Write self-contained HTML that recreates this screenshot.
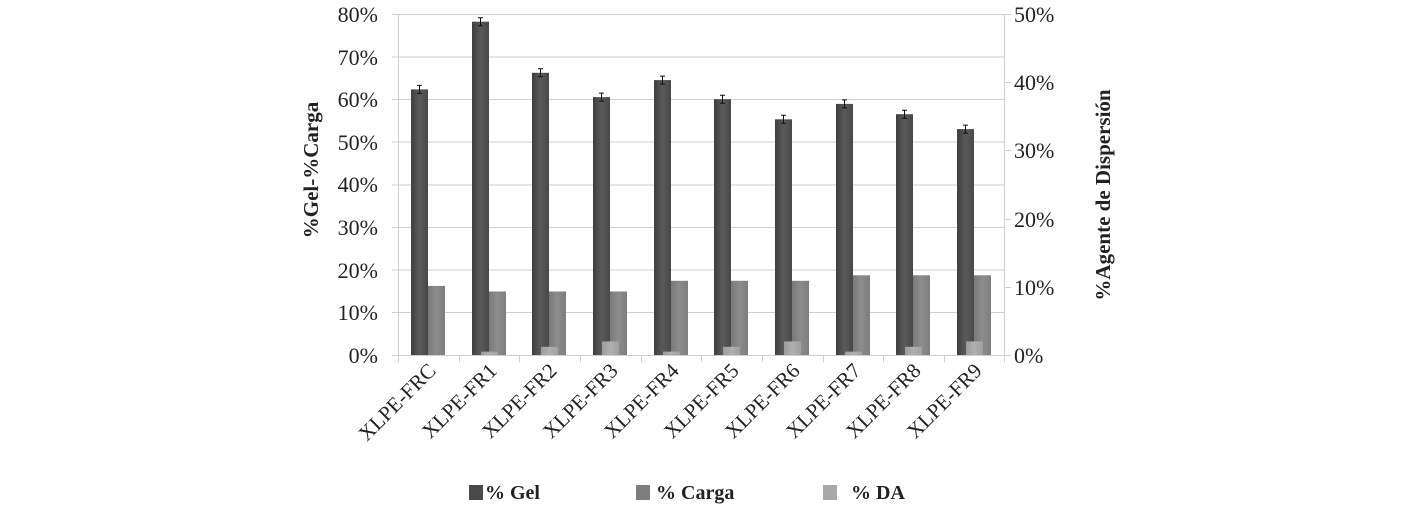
<!DOCTYPE html>
<html><head><style>body{margin:0;background:#fff}</style></head><body>
<svg width="1418" height="514" xmlns="http://www.w3.org/2000/svg" font-family="Liberation Serif, serif">
<defs>
<linearGradient id="g" x1="0" x2="1"><stop offset="0" stop-color="#3e3e3e"/><stop offset="0.5" stop-color="#5a5a5a"/><stop offset="1" stop-color="#484848"/></linearGradient>
<linearGradient id="c" x1="0" x2="1"><stop offset="0" stop-color="#7a7a7a"/><stop offset="0.5" stop-color="#8c8c8c"/><stop offset="1" stop-color="#7e7e7e"/></linearGradient>
<linearGradient id="d" x1="0" x2="1"><stop offset="0" stop-color="#9c9c9c"/><stop offset="0.5" stop-color="#b0b0b0"/><stop offset="1" stop-color="#a0a0a0"/></linearGradient>
</defs>
<g stroke="#cfcfcf" stroke-width="1">
<line x1="392" x2="1005" y1="14.5" y2="14.5"/><line x1="392" x2="1005" y1="57" y2="57"/><line x1="392" x2="1005" y1="99.5" y2="99.5"/><line x1="392" x2="1005" y1="142" y2="142"/><line x1="392" x2="1005" y1="185" y2="185"/><line x1="392" x2="1005" y1="227.5" y2="227.5"/><line x1="392" x2="1005" y1="270" y2="270"/><line x1="392" x2="1005" y1="312.5" y2="312.5"/><line x1="392" x2="1011" y1="355.5" y2="355.5"/>
<line x1="398.5" x2="398.5" y1="14" y2="355"/><line x1="1004.5" x2="1004.5" y1="14" y2="355"/>
<line x1="1005" x2="1011" y1="14.5" y2="14.5"/><line x1="1005" x2="1011" y1="82.5" y2="82.5"/><line x1="1005" x2="1011" y1="150.5" y2="150.5"/><line x1="1005" x2="1011" y1="219.5" y2="219.5"/><line x1="1005" x2="1011" y1="287.5" y2="287.5"/>
<line x1="398.5" x2="398.5" y1="355" y2="362"/><line x1="459.5" x2="459.5" y1="355" y2="362"/><line x1="519.5" x2="519.5" y1="355" y2="362"/><line x1="580.5" x2="580.5" y1="355" y2="362"/><line x1="641.5" x2="641.5" y1="355" y2="362"/><line x1="701.5" x2="701.5" y1="355" y2="362"/><line x1="762.5" x2="762.5" y1="355" y2="362"/><line x1="823.5" x2="823.5" y1="355" y2="362"/><line x1="883.5" x2="883.5" y1="355" y2="362"/><line x1="944.5" x2="944.5" y1="355" y2="362"/><line x1="1004.5" x2="1004.5" y1="355" y2="362"/>
</g>
<g fill="url(#g)">
<rect x="411" y="89.4" width="17" height="265.6"/>
<rect x="472" y="21.7" width="17" height="333.3"/>
<rect x="532" y="72.8" width="17" height="282.2"/>
<rect x="593" y="97.1" width="17" height="257.9"/>
<rect x="654" y="80.1" width="17" height="274.9"/>
<rect x="714" y="99.2" width="17" height="255.8"/>
<rect x="775" y="119.3" width="17" height="235.7"/>
<rect x="836" y="103.9" width="17" height="251.1"/>
<rect x="896" y="114.2" width="17" height="240.8"/>
<rect x="957" y="129.1" width="17" height="225.9"/>
</g>
<g stroke="#111" stroke-width="1" fill="none">
<path d="M419.5 85.4V93.4M417 85.4h5M417 93.4h5"/>
<path d="M480.5 17.7V25.7M478 17.7h5M478 25.7h5"/>
<path d="M540.5 68.8V76.8M538 68.8h5M538 76.8h5"/>
<path d="M601.5 93.1V101.1M599 93.1h5M599 101.1h5"/>
<path d="M662.5 76.1V84.1M660 76.1h5M660 84.1h5"/>
<path d="M722.5 95.2V103.2M720 95.2h5M720 103.2h5"/>
<path d="M783.5 115.3V123.3M781 115.3h5M781 123.3h5"/>
<path d="M844.5 99.9V107.9M842 99.9h5M842 107.9h5"/>
<path d="M904.5 110.2V118.2M902 110.2h5M902 118.2h5"/>
<path d="M965.5 125.1V133.1M963 125.1h5M963 133.1h5"/>
</g>
<g fill="url(#c)">
<rect x="428" y="285.9" width="17" height="69.1"/>
<rect x="489" y="291.5" width="17" height="63.5"/>
<rect x="549" y="291.5" width="17" height="63.5"/>
<rect x="610" y="291.5" width="17" height="63.5"/>
<rect x="671" y="280.8" width="17" height="74.2"/>
<rect x="731" y="280.8" width="17" height="74.2"/>
<rect x="792" y="280.8" width="17" height="74.2"/>
<rect x="853" y="275.3" width="17" height="79.7"/>
<rect x="913" y="275.3" width="17" height="79.7"/>
<rect x="974" y="275.3" width="17" height="79.7"/>
</g>
<g fill="url(#d)">
<rect x="481" y="351.6" width="17" height="3.4"/>
<rect x="541" y="346.8" width="17" height="8.2"/>
<rect x="602" y="341.4" width="17" height="13.6"/>
<rect x="663" y="351.6" width="17" height="3.4"/>
<rect x="723" y="346.8" width="17" height="8.2"/>
<rect x="784" y="341.4" width="17" height="13.6"/>
<rect x="845" y="351.6" width="17" height="3.4"/>
<rect x="905" y="346.8" width="17" height="8.2"/>
<rect x="966" y="341.4" width="17" height="13.6"/>
</g>
<g font-size="22" fill="#222" text-anchor="end">
<text x="378" y="22">80%</text><text x="378" y="65">70%</text><text x="378" y="107">60%</text><text x="378" y="150">50%</text><text x="378" y="192">40%</text><text x="378" y="235">30%</text><text x="378" y="278">20%</text><text x="378" y="320">10%</text><text x="378" y="363">0%</text>
</g>
<g font-size="22" fill="#222">
<text x="1014" y="22">50%</text><text x="1014" y="90">40%</text><text x="1014" y="158">30%</text><text x="1014" y="227">20%</text><text x="1014" y="295">10%</text><text x="1014" y="363">0%</text>
</g>
<text transform="translate(318,170) rotate(-90)" text-anchor="middle" font-size="21" font-weight="bold" fill="#222">%Gel-%Carga</text>
<text transform="translate(1110,195) rotate(-90)" text-anchor="middle" font-size="21" font-weight="bold" fill="#222">%Agente de Dispersión</text>
<g font-size="21" fill="#222" text-anchor="end">
<text transform="translate(437,372) rotate(-45)">XLPE-FRC</text>
<text transform="translate(498,372) rotate(-45)">XLPE-FR1</text>
<text transform="translate(558,372) rotate(-45)">XLPE-FR2</text>
<text transform="translate(619,372) rotate(-45)">XLPE-FR3</text>
<text transform="translate(680,372) rotate(-45)">XLPE-FR4</text>
<text transform="translate(740,372) rotate(-45)">XLPE-FR5</text>
<text transform="translate(801,372) rotate(-45)">XLPE-FR6</text>
<text transform="translate(862,372) rotate(-45)">XLPE-FR7</text>
<text transform="translate(922,372) rotate(-45)">XLPE-FR8</text>
<text transform="translate(983,372) rotate(-45)">XLPE-FR9</text>
</g>
<g font-size="20" font-weight="bold" fill="#222">
<rect x="469" y="485" width="14" height="15" fill="#4a4a4a"/><text x="485" y="499">% Gel</text>
<rect x="636" y="485" width="14" height="15" fill="#7e7e7e"/><text x="656" y="499">% Carga</text>
<rect x="823" y="485" width="14" height="15" fill="#a8a8a8"/><text x="851" y="499">% DA</text>
</g>
</svg>
</body></html>
